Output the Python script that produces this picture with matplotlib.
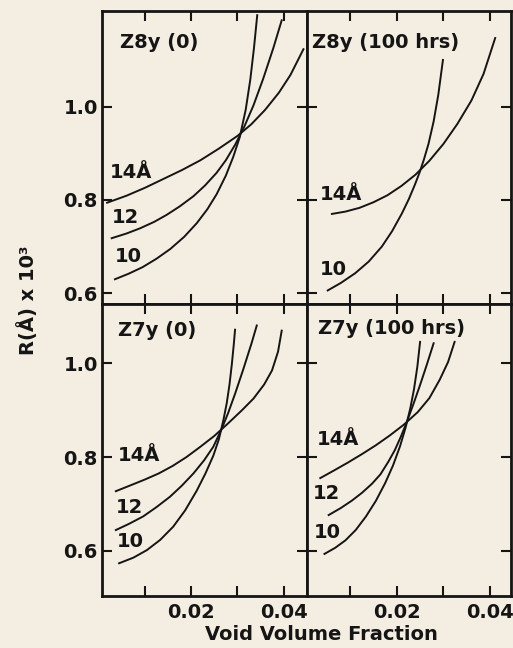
import matplotlib.pyplot as plt

# Z8y (0)
z8_0_x14 = [0.0018, 0.0060, 0.0100, 0.0140, 0.0180, 0.0220, 0.0260, 0.0300, 0.0330, 0.0360, 0.0390, 0.0415, 0.0443]
z8_0_y14 = [0.794, 0.809, 0.826, 0.845, 0.864, 0.885, 0.910, 0.937, 0.962, 0.993, 1.030, 1.068, 1.123]
z8_0_x12 = [0.0028, 0.0060, 0.0089, 0.0120, 0.0147, 0.0175, 0.0205, 0.0230, 0.0255, 0.0275,
            0.0295, 0.0315, 0.0335, 0.0356, 0.0378, 0.0396]
z8_0_y12 = [0.718, 0.728, 0.739, 0.753, 0.768, 0.786, 0.808, 0.831, 0.858, 0.885,
            0.918, 0.957, 1.003, 1.060, 1.126, 1.185]
z8_0_x10 = [0.0035, 0.0065, 0.0095, 0.0125, 0.0155, 0.0185, 0.0212, 0.0235, 0.0255, 0.0275,
            0.0291, 0.0305, 0.0318, 0.0328, 0.0336, 0.0343]
z8_0_y10 = [0.630, 0.642, 0.656, 0.674, 0.695, 0.721, 0.750, 0.780, 0.812, 0.852,
            0.892, 0.934, 0.993, 1.058, 1.126, 1.196]

# Z8y (100 hrs)
z8_100_x14 = [0.0061, 0.0090, 0.0120, 0.0150, 0.0180, 0.0210, 0.0240, 0.0270, 0.0300, 0.0330, 0.0360, 0.0386, 0.0411]
z8_100_y14 = [0.770, 0.775, 0.783, 0.795, 0.810, 0.830, 0.854, 0.884, 0.920, 0.963, 1.013, 1.070, 1.147]
z8_100_x10 = [0.0052, 0.0080, 0.0111, 0.0140, 0.0168, 0.0190, 0.0211, 0.0226, 0.0239, 0.0249,
              0.0258, 0.0268, 0.0279, 0.0289, 0.0299]
z8_100_y10 = [0.606, 0.622, 0.643, 0.668, 0.700, 0.733, 0.771, 0.802, 0.833, 0.859,
              0.886, 0.920, 0.968, 1.025, 1.100]

# Z7y (0)
z7_0_x14 = [0.0037, 0.0070, 0.0100, 0.0130, 0.0160, 0.0190, 0.0220, 0.0250, 0.0280, 0.0310,
            0.0335, 0.0358, 0.0375, 0.0388, 0.0396]
z7_0_y14 = [0.727, 0.740, 0.752, 0.765, 0.781, 0.800, 0.822, 0.845, 0.872, 0.900,
            0.925, 0.955, 0.985, 1.025, 1.070]
z7_0_x12 = [0.0037, 0.0065, 0.0096, 0.0125, 0.0154, 0.0180, 0.0205, 0.0228, 0.0248, 0.0266,
            0.0280, 0.0295, 0.0313, 0.0331, 0.0342]
z7_0_y12 = [0.644, 0.657, 0.673, 0.693, 0.715, 0.739, 0.765, 0.793, 0.822, 0.860,
            0.894, 0.935, 0.988, 1.044, 1.081]
z7_0_x10 = [0.0044, 0.0075, 0.0104, 0.0133, 0.0161, 0.0187, 0.0212, 0.0231, 0.0248, 0.0260,
            0.0270, 0.0277, 0.0283, 0.0288, 0.0292, 0.0295]
z7_0_y10 = [0.573, 0.585, 0.601, 0.623, 0.651, 0.686, 0.728, 0.765, 0.803, 0.838,
            0.880, 0.915, 0.955, 0.998, 1.038, 1.072]

# Z7y (100 hrs)
z7_100_x14 = [0.0036, 0.0065, 0.0095, 0.0125, 0.0155, 0.0185, 0.0215, 0.0245, 0.0270, 0.0292, 0.0310, 0.0324]
z7_100_y14 = [0.755, 0.771, 0.788, 0.806, 0.825, 0.846, 0.869, 0.896, 0.926, 0.965, 1.003, 1.046]
z7_100_x12 = [0.0054, 0.0080, 0.0104, 0.0126, 0.0147, 0.0165, 0.0182, 0.0196, 0.0209, 0.0222,
              0.0236, 0.0250, 0.0264, 0.0279]
z7_100_y12 = [0.676, 0.691, 0.707, 0.724, 0.743, 0.763, 0.790, 0.815, 0.844, 0.876,
              0.914, 0.954, 0.996, 1.043]
z7_100_x10 = [0.0045, 0.0068, 0.0090, 0.0112, 0.0134, 0.0155, 0.0175, 0.0192, 0.0207, 0.0219,
              0.0229, 0.0237, 0.0244, 0.0250]
z7_100_y10 = [0.593, 0.606, 0.622, 0.644, 0.673, 0.706, 0.744, 0.782, 0.823, 0.863,
              0.904, 0.945, 0.992, 1.046]

titles = ['Z8y (0)', 'Z8y (100 hrs)', 'Z7y (0)', 'Z7y (100 hrs)']
yticks = [0.6, 0.8, 1.0]
xticks = [0.01, 0.02, 0.03, 0.04]
xticklabels = ['', '0.02', '', '0.04']

bg = '#f4eee2'
ink = '#151515'
plt.rcParams['font.family'] = 'DejaVu Sans'
plt.rcParams['font.weight'] = 'bold'

fig = plt.figure(figsize=(5.13, 6.48), dpi=100, facecolor=bg)

# [left, bottom, width, height] in figure fraction
pos = [[0.1988, 0.5309, 0.3990, 0.4522],
       [0.5979, 0.5309, 0.3983, 0.4522],
       [0.1988, 0.0802, 0.3990, 0.4507],
       [0.5979, 0.0802, 0.3983, 0.4507]]
xlims = [(0.0007, 0.0450), (0.0007, 0.0445), (0.0007, 0.0450), (0.0007, 0.0445)]
ylims = [(0.577, 1.205), (0.577, 1.205), (0.503, 1.127), (0.503, 1.127)]

curves = [
    [(z8_0_x14, z8_0_y14), (z8_0_x12, z8_0_y12), (z8_0_x10, z8_0_y10)],
    [(z8_100_x14, z8_100_y14), (z8_100_x10, z8_100_y10)],
    [(z7_0_x14, z7_0_y14), (z7_0_x12, z7_0_y12), (z7_0_x10, z7_0_y10)],
    [(z7_100_x14, z7_100_y14), (z7_100_x12, z7_100_y12), (z7_100_x10, z7_100_y10)],
]

# curve labels: (text, x, y)
labels = [
    [('14Å', 0.0024, 0.858), ('12', 0.0028, 0.762), ('10', 0.0035, 0.679)],
    [('14Å', 0.0034, 0.811), ('10', 0.0036, 0.650)],
    [('14Å', 0.0041, 0.804), ('12', 0.0037, 0.692), ('10', 0.0039, 0.619)],
    [('14Å', 0.0029, 0.838), ('12', 0.0021, 0.721), ('10', 0.0023, 0.639)],
]
title_xy = [(0.0046, 1.137), (0.0019, 1.137), (0.0042, 1.071), (0.0031, 1.075)]

for i in range(4):
    ax = fig.add_axes(pos[i])
    ax.set_facecolor(bg)
    for xs, ys in curves[i]:
        ax.plot(xs, ys, color=ink, lw=1.4, solid_joinstyle='round')
    for txt, tx, ty in labels[i]:
        ax.text(tx, ty, txt, fontsize=14, fontweight='bold', color=ink, va='center', ha='left')
    ax.text(title_xy[i][0], title_xy[i][1], titles[i], fontsize=14, fontweight='bold',
            color=ink, va='center', ha='left')
    ax.set_xlim(xlims[i])
    ax.set_ylim(ylims[i])
    ax.set_xticks(xticks)
    ax.set_yticks(yticks)
    ax.tick_params(direction='in', length=7.5, width=1.5, color=ink,
                   top=True, right=True, labelsize=14, labelcolor=ink)
    ax.tick_params(axis='x', pad=5)
    ax.tick_params(axis='y', pad=3)
    if i in (2, 3):
        ax.set_xticklabels(xticklabels, fontweight='bold')
    else:
        ax.set_xticklabels([])
    if i in (0, 2):
        ax.set_yticklabels([f'{v:.1f}' for v in yticks], fontweight='bold')
    else:
        ax.set_yticklabels([])
    for s in ax.spines.values():
        s.set_linewidth(2)
        s.set_color(ink)

fig.text(321 / 513, 1 - 634 / 648, 'Void Volume Fraction', fontsize=14, fontweight='bold',
         color=ink, ha='center', va='center')
fig.text(28 / 513, 1 - 300 / 648, 'R(Å) x 10³', fontsize=14, fontweight='bold',
         color=ink, ha='center', va='center', rotation=90)

fig.savefig('out.png', dpi=100, facecolor=bg)
